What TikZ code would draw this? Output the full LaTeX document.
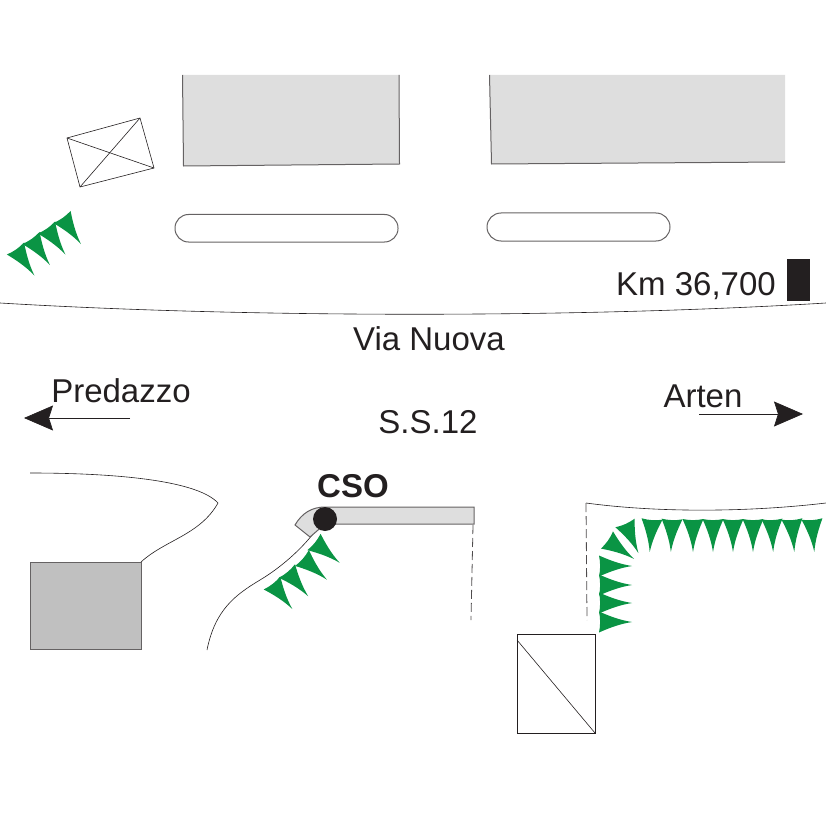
\documentclass[tikz,border=0pt]{standalone}
\usepackage{fontspec}
\setmainfont{Liberation Sans}
\usetikzlibrary{arrows.meta}
\definecolor{cus-green}{RGB}{10, 148, 68}
\definecolor{cus-light}{RGB}{222, 222, 222}
\definecolor{cus-mid}{RGB}{192, 192, 192}
\definecolor{cus-ink}{RGB}{35, 31, 32}
\tikzset{
	label text/.style={anchor=base,inner sep=0pt,text=cus-ink,font=\fontsize{33}{36}\selectfont},
	thin line/.style={draw=cus-ink,line width=0.6pt},
	edge line/.style={draw=cus-ink!70,line width=1pt},
	way arrow/.style={cus-ink,line width=0.7pt,-{Stealth[length=29pt,width=25pt,inset=4pt]}},
	dash line/.style={draw=cus-ink!80,line width=0.8pt,dash pattern=on 9pt off 4pt}
}
\newcommand{\pennant}[3]{
	\begin{scope}[shift={(#1,#2)},rotate=#3]
		\fill [cus-green] (-10.5,0) .. controls (-3,1.5) and (3,1.5) .. (10.5,0) .. controls (6.5,9) and (2,20) .. (0,33) .. controls (-2,20) and (-6.5,9) .. (-10.5,0) -- cycle;
	\end{scope}
}

\begin{document}
\begin{tikzpicture}[x=1pt,y=-1pt]
\useasboundingbox (0,0) rectangle (826,826);
% buildings along the upper side
\fill [cus-light] (182.5,75)--(399,75)--(399.5,164)--(183.5,166)--cycle;
\draw [edge line] (182.5,75)--(183.5,166)--(399.5,164)--(399,75);
\fill [cus-light] (489.5,75)--(785,75)--(785,162)--(491.5,164)--cycle;
\draw [edge line] (489.5,75)--(491.5,164)--(785,162);
\draw [edge line,rounded corners=13.5pt] (175,214.5) rectangle (398,242);
\draw [edge line,rounded corners=14pt] (487,213) rectangle (670,241);
\draw [thin line] (67,138)--(140,118)--(154,168)--(80,187)--cycle;
\draw [thin line] (67,138)--(154,168);
\draw [thin line] (140,118)--(80,187);
\fill [cus-ink] (787,259) rectangle (810,301);
% road
\draw [thin line] (0,303) .. controls (250,318) and (580,318) .. (826,303);
\node [label text] (km) at (696,295) {Km 36,700};
\node [label text] (via) at (429,350) {Via Nuova};
\node [label text] (ss) at (428,433) {S.S.12};
\node [label text] (predazzo) at (121,402) {Predazzo};
\node [label text] (arten) at (703,407) {Arten};
\coordinate (predazzo tail) at (130,418);
\coordinate (predazzo head) at (24,418);
\coordinate (arten tail) at (699,414);
\coordinate (arten head) at (803,414);
\draw [way arrow] (predazzo tail) -- (predazzo head);
\draw [way arrow] (arten tail) -- (arten head);
% lower left corner
\draw [thin line] (30,473) .. controls (100,473) and (195,478) .. (218,503) .. controls (200,535) and (165,540) .. (141,562);
\draw [edge line,fill=cus-mid] (30,562) rectangle (141,649);
\draw [thin line] (207,650) .. controls (215,610) and (235,595) .. (260,580) .. controls (285,565) and (305,545) .. (316,530);
% station
\draw [edge line,fill=cus-light] (325,507)--(474,507)--(474,524)--(325,524)--(310,537)--(295,525) .. controls (302,513) and (312,507) .. (325,507)--cycle;
\node [circle,fill=cus-ink,minimum size=24pt,inner sep=0pt] (cso) at (325,519) {};
\node [label text,font=\fontsize{33}{36}\selectfont\bfseries] (cso label) at (353,497) {CSO};
\draw [dash line] (473,525) -- (471,620);
% lower right corner
\draw [thin line] (586,503) .. controls (660,513) and (750,512) .. (826,503);
\draw [dash line] (586,503) -- (587,620);
\draw [thin line] (517,634) rectangle (595,733);
\draw [thin line] (517,640) -- (595,733);
% pennants
\foreach \x in {0,1,2,3}{
	\pennant{62-15.5*\x}{217+10.5*\x}{35}
}
\pennant{314}{542}{51}
\pennant{302}{558}{49}
\pennant{287}{571}{40}
\pennant{272}{583}{38}
\foreach \x/\a in {652/-4,672/-2,693/0,713/0,733/0,753/0,772/2,792/4,812/4}{
	\pennant{\x}{519}{\a}
}
\foreach \y in {566,585,603,622}{
	\pennant{599}{\y}{90}
}
\pennant{607}{540}{55}
\pennant{625}{523}{24}
\end{tikzpicture}
\end{document}
